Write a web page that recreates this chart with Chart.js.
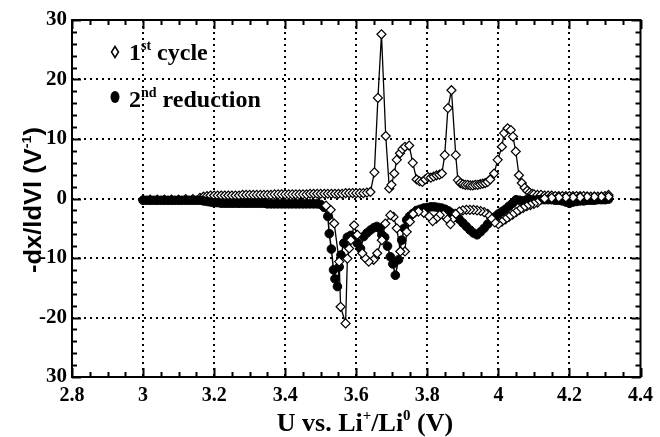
<!DOCTYPE html>
<html><head><meta charset="utf-8">
<script src="https://cdn.jsdelivr.net/npm/chart.js@4/dist/chart.umd.min.js"></script>
<style>html,body{margin:0;padding:0;background:#fff}canvas{display:block}</style>
</head><body>
<canvas id="c" width="660" height="437"></canvas>
<script>
// ---- data ----
const xTickValues = [2.8, 3.0, 3.2, 3.4, 3.6, 3.8, 4.0, 4.2, 4.4];
const xTickLabels = ["2.8", "3", "3.2", "3.4", "3.6", "3.8", "4", "4.2", "4.4"];
const yTickValues = [-30, -20, -10, 0, 10, 20, 30];
const yTickLabels = ["30", "-20", "-10", "0", "10", "20", "30"];

// 1st cycle, oxidation (charge)
const cycle1ChargeU = [
 3.00,3.02,3.04,3.06,3.08,3.10,3.12,3.14,3.16,3.17,
 3.18,3.19,3.20,3.21,3.22,3.23,3.24,3.25,3.26,3.27,
 3.28,3.29,3.30,3.31,3.32,3.33,3.34,3.35,3.36,3.37,
 3.38,3.39,3.40,3.41,3.42,3.43,3.44,3.45,3.46,3.47,
 3.48,3.49,3.50,3.51,3.52,3.53,3.54,3.55,3.56,3.57,
 3.58,3.59,3.60,3.61,3.62,3.63,3.64,3.651,3.661,3.671,
 3.683,3.693,3.699,3.707,3.714,3.723,3.730,3.737,3.749,3.759,
 3.770,3.778,3.786,3.794,3.802,3.810,3.818,3.826,3.834,3.841,
 3.849,3.858,3.868,3.880,3.886,3.893,3.900,3.907,3.914,3.921,
 3.928,3.935,3.942,3.949,3.956,3.963,3.970,3.977,3.988,3.998,
 4.010,4.016,4.026,4.035,4.041,4.049,4.058,4.066,4.074,4.081,
 4.088,4.095,4.10,4.11,4.12,4.13,4.14,4.15,4.16,4.17,
 4.18,4.19,4.20,4.21,4.22,4.23,4.24,4.25,4.26,4.27,
 4.28,4.29,4.30,4.31
];
const cycle1ChargeDx = [
 -0.2,-0.2,-0.2,-0.2,-0.2,-0.2,-0.1,-0.1,0.1,0.3,
 0.4,0.5,0.5,0.5,0.5,0.5,0.5,0.5,0.5,0.5,
 0.6,0.6,0.6,0.6,0.6,0.6,0.6,0.6,0.6,0.7,
 0.7,0.7,0.7,0.7,0.7,0.7,0.7,0.7,0.7,0.8,
 0.8,0.8,0.8,0.8,0.8,0.8,0.8,0.8,0.8,0.9,
 0.9,0.9,0.9,0.9,0.9,1.0,1.1,4.4,16.9,27.6,
 10.5,1.7,2.3,4.2,6.5,7.6,8.3,8.7,8.9,6.0,
 3.2,2.9,2.8,3.2,3.6,3.5,3.7,3.9,4.0,4.2,
 7.3,15.2,18.2,7.3,3.1,2.6,2.4,2.3,2.3,2.2,
 2.2,2.3,2.3,2.4,2.5,2.6,2.8,3.2,4.2,6.5,
 8.7,11.0,11.8,11.5,10.4,7.9,3.9,2.6,1.8,1.3,
 1.0,0.8,0.7,0.6,0.6,0.5,0.5,0.5,0.4,0.4,
 0.4,0.4,0.4,0.4,0.4,0.4,0.4,0.3,0.3,0.3,
 0.3,0.3,0.4,0.6
];

// 1st cycle, reduction (discharge)
const cycle1DischargeU = [
 4.31,4.29,4.27,4.25,4.23,4.21,4.19,4.17,4.15,4.13,
 4.11,4.10,4.09,4.08,4.07,4.06,4.05,4.04,4.03,4.02,
 4.01,4.00,3.99,3.98,3.97,3.96,3.95,3.94,3.93,3.92,
 3.91,3.90,3.89,3.88,3.87,3.865,3.855,3.845,3.835,3.825,
 3.815,3.805,3.79,3.775,3.76,3.751,3.742,3.737,3.724,3.714,
 3.705,3.696,3.682,3.672,3.659,3.649,3.635,3.625,3.617,3.603,
 3.594,3.585,3.580,3.575,3.570,3.556,3.552,3.538,3.528,3.515
];
const cycle1DischargeDx = [
 0.3,0.3,0.3,0.3,0.2,0.2,0.2,0.2,0.1,0.0,
 -0.7,-0.9,-1.1,-1.3,-1.6,-1.9,-2.3,-2.7,-3.1,-3.5,
 -3.9,-4.3,-4.0,-3.3,-2.6,-2.3,-2.1,-2.0,-1.9,-1.9,
 -1.9,-2.0,-2.2,-2.6,-3.5,-4.3,-3.4,-2.7,-2.8,-3.4,
 -3.8,-3.0,-2.4,-2.2,-2.6,-3.9,-5.6,-8.9,-8.9,-5.0,
 -3.1,-2.8,-4.2,-7.0,-9.2,-10.3,-10.6,-10.0,-9.2,-6.1,
 -4.5,-7.0,-8.4,-10.1,-21.0,-18.2,-10.6,-4.2,-1.9,-1.2
];

// 2nd reduction
const reduction2U = [
 4.31,4.30,4.29,4.28,4.27,4.26,4.25,4.24,4.23,4.22,
 4.21,4.20,4.19,4.18,4.17,4.16,4.15,4.14,4.13,4.12,
 4.11,4.10,4.09,4.08,4.07,4.06,4.05,4.04,4.03,4.02,
 4.01,4.00,3.99,3.98,3.97,3.96,3.95,3.94,3.93,3.92,
 3.91,3.90,3.89,3.88,3.87,3.86,3.85,3.84,3.83,3.82,
 3.81,3.80,3.79,3.78,3.77,3.76,3.75,3.742,3.735,3.728,
 3.719,3.710,3.703,3.696,3.688,3.680,3.672,3.665,3.658,3.650,
 3.640,3.630,3.621,3.612,3.603,3.594,3.585,3.575,3.565,3.557,
 3.552,3.547,3.540,3.536,3.530,3.524,3.52,3.51,3.50,3.49,
 3.48,3.47,3.46,3.45,3.44,3.43,3.42,3.41,3.40,3.39,
 3.38,3.37,3.36,3.35,3.34,3.33,3.32,3.31,3.30,3.29,
 3.28,3.27,3.26,3.25,3.24,3.23,3.22,3.21,3.20,3.19,
 3.18,3.17,3.16,3.15,3.14,3.13,3.12,3.11,3.10,3.09,
 3.08,3.07,3.06,3.05,3.04,3.03,3.02,3.01,3.00
];
const reduction2Dx = [
 -0.1,-0.2,-0.2,-0.2,-0.3,-0.3,-0.3,-0.4,-0.4,-0.5,
 -0.6,-0.8,-0.6,-0.4,-0.3,-0.3,-0.2,-0.2,-0.2,-0.2,
 -0.2,-0.3,-0.2,-0.2,-0.4,-0.3,-0.2,-0.8,-1.3,-1.8,
 -2.2,-2.6,-3.1,-3.7,-4.3,-5.0,-5.6,-6.1,-5.8,-5.3,
 -4.7,-4.1,-3.5,-2.9,-2.5,-2.1,-1.8,-1.6,-1.5,-1.4,
 -1.4,-1.5,-1.6,-1.8,-2.0,-2.5,-3.0,-3.6,-5.0,-7.0,
 -10.3,-12.9,-11.0,-9.8,-8.0,-6.5,-6.1,-5.0,-4.7,-4.9,
 -5.3,-5.8,-6.4,-8.4,-7.5,-6.7,-6.2,-6.5,-7.5,-9.5,
 -11.5,-14.8,-13.5,-12.0,-8.5,-5.9,-3.0,-1.5,-1.0,-0.9,
 -0.9,-0.9,-0.9,-0.9,-0.9,-0.9,-0.9,-0.9,-0.9,-0.9,
 -0.9,-0.9,-0.9,-0.9,-0.8,-0.8,-0.8,-0.8,-0.8,-0.8,
 -0.8,-0.8,-0.8,-0.8,-0.8,-0.8,-0.8,-0.7,-0.7,-0.6,
 -0.5,-0.4,-0.3,-0.3,-0.3,-0.3,-0.3,-0.3,-0.3,-0.3,
 -0.3,-0.3,-0.3,-0.3,-0.3,-0.3,-0.3,-0.3,-0.3
];

// ---- chart ----
const toPts = (u, d) => u.map((v, i) => ({ x: v, y: d[i] }));
const SERIF = '"Liberation Serif", "Times New Roman", serif';
const SANS = '"Liberation Sans", Arial, sans-serif';

function richWidth(ctx, parts, size, family) {
  const supSize = Math.round(size * 0.58);
  let total = 0;
  parts.forEach(([t, sup]) => {
    ctx.font = 'bold ' + (sup ? supSize : size) + 'px ' + family;
    total += ctx.measureText(t).width;
  });
  return total;
}
function drawRich(ctx, x, y, parts, size, family, align) {
  const supSize = Math.round(size * 0.58);
  const total = richWidth(ctx, parts, size, family);
  let cx = align === 'center' ? x - total / 2 : x;
  parts.forEach(([t, sup]) => {
    ctx.font = 'bold ' + (sup ? supSize : size) + 'px ' + family;
    ctx.fillText(t, cx, sup ? y - size * 0.42 : y);
    cx += ctx.measureText(t).width;
  });
}

const framePlugin = {
  id: 'frame',
  afterDraw(chart) {
    const { ctx, chartArea: a, scales: { x, y } } = chart;
    ctx.save();
    ctx.strokeStyle = '#000';
    ctx.fillStyle = '#000';
    ctx.lineWidth = 2;
    ctx.setLineDash([]);
    ctx.strokeRect(a.left, a.top, a.right - a.left, a.bottom - a.top);
    // inward ticks
    ctx.beginPath();
    for (let k = 0; k <= 32; k++) {
      const px = Math.round(x.getPixelForValue(2.8 + k * 0.05)) + 0.5;
      const len = k % 4 === 0 ? 9 : 5;
      ctx.moveTo(px, a.bottom); ctx.lineTo(px, a.bottom - len);
      ctx.moveTo(px, a.top); ctx.lineTo(px, a.top + len);
    }
    for (let k = 0; k <= 30; k++) {
      const py = Math.round(y.getPixelForValue(-30 + k * 2)) + 0.5;
      const len = k % 5 === 0 ? 9 : 5;
      ctx.moveTo(a.left, py); ctx.lineTo(a.left + len, py);
      ctx.moveTo(a.right, py); ctx.lineTo(a.right - len, py);
    }
    ctx.stroke();

    // legend
    ctx.textBaseline = 'alphabetic';
    ctx.textAlign = 'left';
    ctx.lineWidth = 1.5;
    ctx.beginPath();
    ctx.moveTo(115, 46.5); ctx.lineTo(118.5, 52); ctx.lineTo(115, 57.5); ctx.lineTo(111.5, 52); ctx.closePath();
    ctx.fillStyle = '#fff'; ctx.fill(); ctx.stroke();
    ctx.fillStyle = '#000';
    ctx.beginPath();
    ctx.ellipse(115, 97, 4.5, 6, 0, 0, Math.PI * 2);
    ctx.fill();
    drawRich(ctx, 129, 60, [['1', false], ['st', true], [' cycle', false]], 24, SERIF, 'left');
    drawRich(ctx, 129, 107, [['2', false], ['nd', true], [' reduction', false]], 24, SERIF, 'left');

    // x title
    drawRich(ctx, 365, 431, [['U vs. Li', false], ['+', true], ['/Li', false], ['0', true], [' (V)', false]], 26, SERIF, 'center');

    // y title (rotated), fitted to the length it has in the reference
    const yParts = [['-dx/ldVl (V', false], ['-1', true], [')', false]];
    const w = richWidth(ctx, yParts, 23, SANS);
    ctx.translate(33, 200);
    ctx.rotate(-Math.PI / 2);
    ctx.scale(146 / w, 1);
    drawRich(ctx, 0, 8, yParts, 23, SANS, 'center');
    ctx.restore();
  }
};

new Chart(document.getElementById('c'), {
  type: 'scatter',
  data: {
    datasets: [
      {
        label: '1st cycle (reduction)', data: toPts(cycle1DischargeU, cycle1DischargeDx), showLine: true,
        borderColor: '#000', borderWidth: 1.3, pointStyle: 'rectRot', pointRadius: 4.5,
        pointBackgroundColor: '#fff', pointBorderColor: '#000', pointBorderWidth: 1.2, order: 0
      },
      {
        label: '2nd reduction', data: toPts(reduction2U, reduction2Dx), showLine: true,
        borderColor: '#000', borderWidth: 1.5, pointStyle: 'circle', pointRadius: 4.3,
        pointBackgroundColor: '#000', pointBorderColor: '#000', pointBorderWidth: 1, order: 1
      },
      {
        label: '1st cycle', data: toPts(cycle1ChargeU, cycle1ChargeDx), showLine: true,
        borderColor: '#000', borderWidth: 1.3, pointStyle: 'rectRot', pointRadius: 4.5,
        pointBackgroundColor: '#fff', pointBorderColor: '#000', pointBorderWidth: 1.2, order: 2
      }
    ]
  },
  options: {
    responsive: false, animation: false, devicePixelRatio: 1,
    layout: { padding: { left: 0, right: 14, top: 20, bottom: 0 } },
    plugins: { legend: { display: false }, tooltip: { enabled: false } },
    scales: {
      x: {
        type: 'linear', min: 2.8, max: 4.4,
        afterBuildTicks: (s) => { s.ticks = xTickValues.map(v => ({ value: v })); },
        afterFit: (s) => { s.height = 60; },
        ticks: {
          padding: 7, color: '#000', maxRotation: 0, autoSkip: false,
          font: { family: SERIF, weight: 'bold', size: 20 },
          callback: (v, i) => xTickLabels[i]
        },
        grid: {
          drawTicks: false, lineWidth: 2,
          color: (c) => (c.tick && (c.tick.value === 2.8 || c.tick.value === 4.4)) ? 'rgba(0,0,0,0)' : '#000'
        },
        border: { display: false, dash: [2, 4] }
      },
      y: {
        type: 'linear', min: -30, max: 30,
        afterBuildTicks: (s) => { s.ticks = yTickValues.map(v => ({ value: v })); },
        afterFit: (s) => { s.width = 72; },
        ticks: {
          padding: 5, color: '#000', autoSkip: false,
          font: { family: SERIF, weight: 'bold', size: 21 },
          callback: (v, i) => yTickLabels[i]
        },
        grid: {
          drawTicks: false, lineWidth: 2,
          color: (c) => (c.tick && Math.abs(c.tick.value) === 30) ? 'rgba(0,0,0,0)' : '#000'
        },
        border: { display: false, dash: [2, 4] }
      }
    }
  },
  plugins: [framePlugin]
});
</script>
</body></html>
